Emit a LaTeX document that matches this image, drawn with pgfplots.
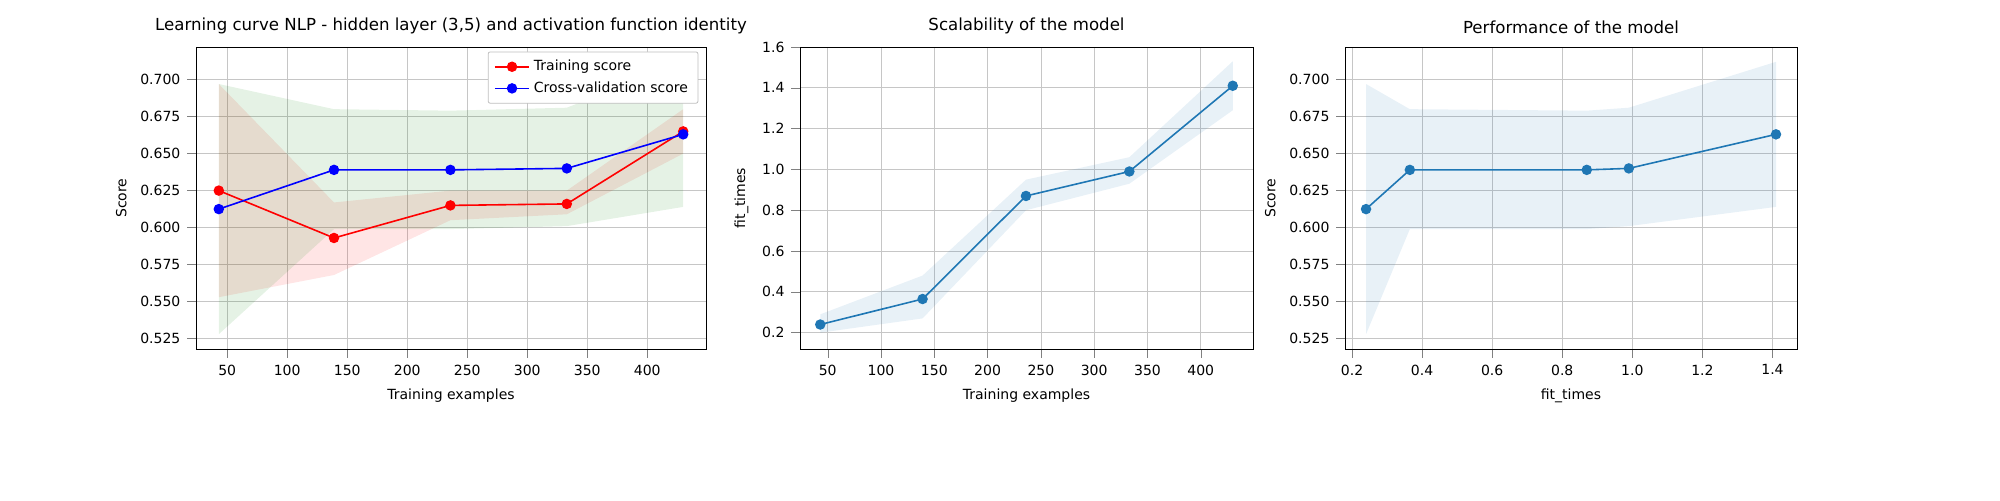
\documentclass[border=0pt]{standalone}
\usepackage{pgfplots}
\pgfplotsset{compat=1.18}
\usepackage{fontspec}
\setmainfont{DejaVu Sans}
\definecolor{tabblue}{HTML}{1F77B4}
\definecolor{mgreen}{HTML}{008000}
\begin{document}
\begin{tikzpicture}
\path (0,0) rectangle (1000pt,250pt);
\pgfplotsset{every axis/.style={scale only axis, width=255pt, height=151pt, anchor=south west,
 grid=major, grid style={gray!45, line width=0.4pt}, font=\fontsize{7}{8}\selectfont,
 title style={font=\fontsize{8.3}{9}\selectfont, yshift=-3pt},
 tick align=outside, tick pos=left, /pgf/number format/assume math mode=true,
 label style={font=\fontsize{7}{8}\selectfont}}}
% panel 1
\begin{axis}[at={(98pt,75.5pt)}, width=255pt, xmin=24, xmax=449, ymin=0.518, ymax=0.722,
 xtick={50,100,...,400}, ytick={0.525,0.55,...,0.7},
 yticklabel style={/pgf/number format/.cd, fixed, fixed zerofill, precision=3},
 xlabel={Training examples}, ylabel={Score},
 title={Learning curve NLP - hidden layer (3,5) and activation function identity},
 legend cell align=left,
 legend style={at={(0.985,0.985)}, anchor=north east, font=\fontsize{7}{8}\selectfont, draw=gray!50, rounded corners=1pt}]
\addplot[fill=red, fill opacity=0.1, draw=none, forget plot] coordinates {(43,0.697)(139,0.617)(236,0.625)(333,0.625)(430,0.680)(430,0.650)(333,0.609)(236,0.605)(139,0.568)(43,0.553)} --cycle;
\addplot[fill=mgreen, fill opacity=0.1, draw=none, forget plot] coordinates {(43,0.697)(139,0.680)(236,0.679)(333,0.681)(430,0.712)(430,0.614)(333,0.601)(236,0.599)(139,0.599)(43,0.528)} --cycle;
\addplot[red, thick, mark=*, mark size=2.2pt] coordinates {(43,0.625)(139,0.593)(236,0.615)(333,0.616)(430,0.665)};
\addlegendentry{Training score}
\addplot[blue, thick, mark=*, mark size=2.2pt] coordinates {(43,0.6125)(139,0.639)(236,0.639)(333,0.640)(430,0.663)};
\addlegendentry{Cross-validation score}
\end{axis}
% panel 2
\begin{axis}[at={(400pt,75.5pt)}, width=226.5pt, xmin=24, xmax=449, ymin=0.12, ymax=1.6,
 xtick={50,100,...,400}, ytick={0.2,0.4,...,1.6},
 yticklabel style={/pgf/number format/.cd, fixed, fixed zerofill, precision=1},
 xlabel={Training examples}, ylabel={fit\_times}, title={Scalability of the model}]
\addplot[fill=tabblue, fill opacity=0.1, draw=none] coordinates {(43,0.29)(139,0.48)(236,0.95)(333,1.06)(430,1.53)(430,1.29)(333,0.93)(236,0.80)(139,0.27)(43,0.20)} --cycle;
\addplot[tabblue, thick, mark=*, mark size=2.2pt] coordinates {(43,0.24)(139,0.365)(236,0.87)(333,0.99)(430,1.41)};
\end{axis}
% panel 3
\begin{axis}[at={(672.5pt,75.5pt)}, width=226pt, xmin=0.18, xmax=1.47, ymin=0.518, ymax=0.722,
 xtick={0.2,0.4,...,1.4}, ytick={0.525,0.55,...,0.7},
 xticklabel style={/pgf/number format/.cd, fixed, fixed zerofill, precision=1},
 yticklabel style={/pgf/number format/.cd, fixed, fixed zerofill, precision=3},
 xlabel={fit\_times}, ylabel={Score}, title={Performance of the model}]
\addplot[fill=tabblue, fill opacity=0.1, draw=none] coordinates {(0.24,0.697)(0.365,0.680)(0.87,0.679)(0.99,0.681)(1.41,0.712)(1.41,0.614)(0.99,0.601)(0.87,0.599)(0.365,0.599)(0.24,0.528)} --cycle;
\addplot[tabblue, thick, mark=*, mark size=2.2pt] coordinates {(0.24,0.6125)(0.365,0.639)(0.87,0.639)(0.99,0.640)(1.41,0.663)};
\end{axis}
\end{tikzpicture}
\end{document}
